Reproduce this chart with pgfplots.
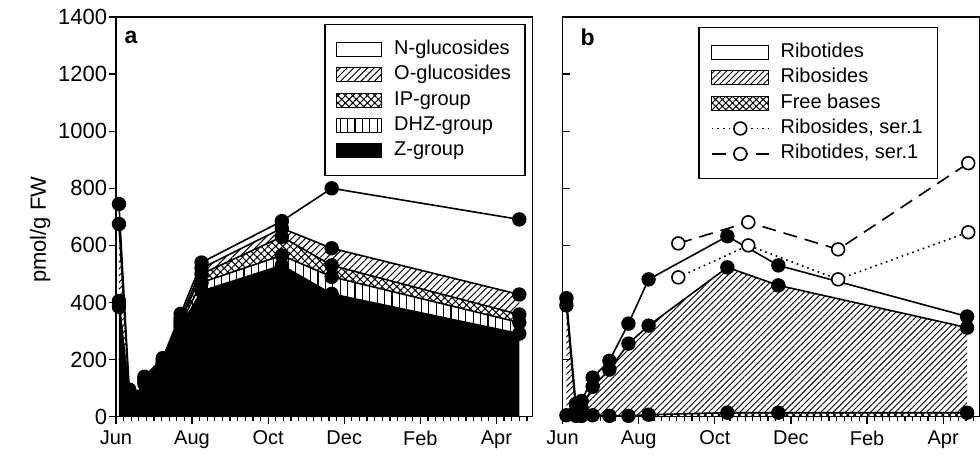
\documentclass[border=0pt]{standalone}
\usepackage{fontspec}
\setmainfont{Liberation Sans}
\usepackage{pgfplots}
\pgfplotsset{compat=1.18}
\usepackage{pgfplotstable}
\usepgfplotslibrary{fillbetween}
\usetikzlibrary{patterns,patterns.meta}

% panel a: cumulative tops of stacked layers (months since 1 June)
\pgfplotstableread{
t     Z    D    I    O    N
0.08  385  395  405  675  745
0.35  60   65   70   80   95
0.55  35   40   45   55   70
0.75  115  120  125  132  140
1.23  180  185  190  197  205
1.70  315  325  335  345  360
2.25  440  470  500  520  540
4.36  530  565  630  660  685
5.67  430  490  530  590  800
10.60 291  330  358  428  691
}\dataA

% panel b: cumulative tops (free bases, + ribosides, + ribotides)
\pgfplotstableread{
t     F   R    T
0.10  5   390  415
0.35  3   20   45
0.50  3   30   55
0.79  5   105  137
1.23  3   165  196
1.73  3   256  326
2.26  7   319  481
4.33  14  523  632
5.67  14  460  530
10.63 14  312  351
}\dataB

\pgfplotstableread{
t     Rs   Rt
3.04  488  607
4.88  600  681
7.24  481  586
10.66 646  888
}\dataS

\pgfplotsset{
  common/.style={
    scale only axis, width=208.5pt, height=200pt,
    xmin=0, xmax=10.95, ymin=0, ymax=1400,
    xtick={0,2,4,6,8,10}, xticklabels={Jun,Aug,Oct,Dec,Feb,Apr},
    minor xtick={0.2,0.4,...,10.9},
    ytick={0,200,...,1400},
    tick align=outside, tick pos=left,
    major tick length=3.5pt, minor tick length=2pt,
    every tick/.style={black, line width=0.6pt},
    axis line style={line width=0.7pt},
    xticklabel style={font=\fontsize{10}{12}\selectfont},
    yticklabel style={font=\fontsize{11}{12}\selectfont, xshift=2.6pt},
    /pgf/number format/assume math mode=true,
    /pgf/number format/1000 sep={},
    clip=false,
    legend cell align=left,
    legend style={font=\fontsize{10}{12}\selectfont, draw=black, line width=0.7pt,
      inner xsep=5.5pt, inner ysep=6pt,
      nodes={inner sep=1.5pt, text height=7.3pt, text depth=2.4pt}},
  },
  boxlegend/.style={legend image code/.code={
      \draw[##1, line width=0.6pt] (0pt,-3.5pt) rectangle (#1,3.5pt);}},
  linelegend/.style={legend image code/.code={
      \draw[mark repeat=2, mark phase=2, ##1] plot coordinates {(0pt,0pt) (14.25pt,0pt) (28.5pt,0pt)};}},
  dot/.style={black, line width=0.8pt, mark=*, mark size=3.2pt, mark options={solid, fill=black}},
  odot/.style={black, line width=0.8pt, mark=*, mark size=3.2pt, mark options={solid, fill=white}},
}

\begin{document}
\begin{tikzpicture}

% ---------------- panel a ----------------
\begin{axis}[common, at={(0pt,0pt)}, anchor=south west,
  ylabel={pmol/g FW},
  ylabel style={font=\fontsize{11}{13}\selectfont, at={(axis description cs:-0.182,0.4675)}, anchor=center},
  legend style={at={(0.983,0.9825)}, anchor=north east,
    /tikz/every odd column/.append style={column sep=4.5pt}},
  legend entries={N-glucosides, O-glucosides, IP-group, DHZ-group, Z-group},
]
\addlegendimage{boxlegend=22.5pt, fill=white, draw=black}
\addlegendimage{boxlegend=22.5pt, draw=black, pattern={Lines[angle=45,distance=2.4pt,line width=0.5pt]}}
\addlegendimage{boxlegend=22.5pt, draw=black, pattern={Hatch[angle=45,distance=2.6pt,line width=0.5pt]}}
\addlegendimage{boxlegend=22.5pt, draw=black, pattern={Lines[angle=90,distance=3.7pt,line width=0.6pt]}}
\addlegendimage{boxlegend=22.5pt, draw=black, fill=black}

\addplot[fill=black, draw=none, forget plot] table[x=t,y=Z]{\dataA} \closedcycle;
\addplot[name path=aZ, draw=none, forget plot] table[x=t,y=Z]{\dataA};
\addplot[name path=aD, draw=none, forget plot] table[x=t,y=D]{\dataA};
\addplot[name path=aI, draw=none, forget plot] table[x=t,y=I]{\dataA};
\addplot[name path=aO, draw=none, forget plot] table[x=t,y=O]{\dataA};
\addplot[fill=white, draw=none, forget plot] fill between[of=aZ and aD];
\addplot[pattern={Lines[angle=90,distance=3.7pt,line width=0.6pt]}, draw=none, forget plot] fill between[of=aZ and aD];
\addplot[pattern={Hatch[angle=45,distance=2.6pt,line width=0.5pt]}, draw=none, forget plot] fill between[of=aD and aI];
\addplot[pattern={Lines[angle=45,distance=2.4pt,line width=0.5pt]}, draw=none, forget plot] fill between[of=aI and aO];

\addplot[dot, forget plot] table[x=t,y=Z]{\dataA};
\addplot[dot, forget plot] table[x=t,y=D]{\dataA};
\addplot[dot, forget plot] table[x=t,y=I]{\dataA};
\addplot[dot, forget plot] table[x=t,y=O]{\dataA};
\addplot[dot, forget plot] table[x=t,y=N]{\dataA};

\node[font=\bfseries\fontsize{11.5}{13}\selectfont] at (rel axis cs:0.036,0.95) {a};
\end{axis}

% ---------------- panel b ----------------
\begin{axis}[common, at={(223.5pt,0pt)}, anchor=south west,
  yticklabels={},
  y tick style={xshift=3.8pt},
  legend style={at={(0.902,0.975)}, anchor=north east, inner xsep=6pt,
    /tikz/every odd column/.append style={column sep=4pt}},
  legend entries={Ribotides, Ribosides, Free bases, {Ribosides, ser.1}, {Ribotides, ser.1}},
]
\addlegendimage{boxlegend=28.5pt, fill=white, draw=black}
\addlegendimage{boxlegend=28.5pt, draw=black, pattern={Lines[angle=45,distance=2.2pt,line width=0.45pt]}}
\addlegendimage{boxlegend=28.5pt, draw=black, pattern={Hatch[angle=45,distance=2.4pt,line width=0.5pt]}}
\addlegendimage{linelegend, odot, dotted}
\addlegendimage{linelegend, odot, dash pattern=on 7pt off 4pt}

\addplot[name path=bF, draw=none, forget plot] table[x=t,y=F]{\dataB};
\addplot[name path=bR, draw=none, forget plot] table[x=t,y=R]{\dataB};
\addplot[pattern={Hatch[angle=45,distance=2.4pt,line width=0.5pt]}, draw=none, forget plot] table[x=t,y=F]{\dataB} \closedcycle;
\addplot[pattern={Lines[angle=45,distance=2.2pt,line width=0.45pt]}, draw=none, forget plot] fill between[of=bF and bR];

\addplot[odot, dotted, forget plot] table[x=t,y=Rs]{\dataS};
\addplot[odot, dash pattern=on 7pt off 4pt, forget plot] table[x=t,y=Rt]{\dataS};

\addplot[dot, forget plot] table[x=t,y=F]{\dataB};
\addplot[dot, forget plot] table[x=t,y=R]{\dataB};
\addplot[dot, forget plot] table[x=t,y=T]{\dataB};

\node[font=\bfseries\fontsize{11.5}{13}\selectfont] at (rel axis cs:0.06,0.95) {b};
\end{axis}
\path (-58pt,-19.5pt) rectangle (432pt,208.5pt);
\end{tikzpicture}
\end{document}
